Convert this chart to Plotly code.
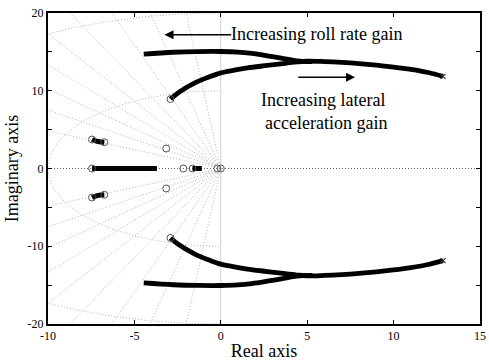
import numpy as np
import plotly.graph_objects as go

FONT = "Liberation Serif, Times New Roman, serif"

# ---- data ----
# upper branch for roll rate gain (upper half plane), mirrored below
roll_x = [5.3, 4.4, 3.5, 2.69, 1.8, 0.97, 0.0, -1.31, -2.74, -4.46]
roll_y = [13.75, 13.85, 14.2, 14.5, 14.8, 14.98, 15.05, 15.04, 14.95, 14.72]

# branch for lateral acceleration gain
lat_x = [-2.91, -2.4, -1.5, -0.7, 0.0, 0.8, 1.54, 2.69, 3.6, 4.4, 4.97, 6.0, 7.0, 8.0, 9.0, 10.0, 11.0, 12.0, 12.86]
lat_y = [8.93, 9.85, 11.0, 11.75, 12.3, 12.65, 12.94, 13.25, 13.5, 13.7, 13.8, 13.75, 13.65, 13.5, 13.3, 13.05, 12.75, 12.35, 11.85]

# small clusters near -7
clus_x = [-7.45, -7.2, -6.95, -6.74]
clus_y = [3.73, 3.52, 3.42, 3.38]

# real-axis segments
seg1_x = [-7.45, -3.7]
seg2_x = [-1.64, -1.1]

# open circles (zeros)
zero_x = [-2.91, -2.91, -3.16, -3.16, -2.17, -0.2, 0.0, -7.45, -7.45, -7.45, -6.74, -6.74, -1.64]
zero_y = [8.93, -8.93, 2.57, -2.57, 0.0, 0.0, 0.0, 0.0, 3.73, -3.73, 3.38, -3.38, 0.0]

# end crosses
end_x = [12.86, 12.86]
end_y = [11.85, -11.85]

# s-grid
zetas = [0.1, 0.2, 0.3, 0.4, 0.5, 0.6, 0.7, 0.8, 0.9]
wns = [10, 20]

x_ticks = [-10, -5, 0, 5, 10, 15]
y_ticks = [-20, -15, -10, -5, 0, 5, 10, 15, 20]
y_ticktext = ["-20", "", "-10", "", "0", "", "10", "", "20"]

fig = go.Figure()

grid_color = "#b4b4b4"
grid_dash = "1px,2px"

# damping ratio lines
for z in zetas:
    th = np.arccos(z)
    R = 40
    for s in (1, -1):
        fig.add_trace(go.Scatter(x=[0, -R * z], y=[0, s * R * np.sin(th)], mode="lines",
                                 line=dict(color=grid_color, width=1, dash=grid_dash),
                                 hoverinfo="skip", showlegend=False))
# natural frequency circles
for wn in wns:
    t = np.linspace(np.pi / 2, 3 * np.pi / 2, 200)
    fig.add_trace(go.Scatter(x=wn * np.cos(t), y=wn * np.sin(t), mode="lines",
                             line=dict(color=grid_color, width=1, dash=grid_dash),
                             hoverinfo="skip", showlegend=False))
# imaginary axis
fig.add_trace(go.Scatter(x=[0, 0], y=[-20, 20], mode="lines",
                         line=dict(color="#cfcfcf", width=1), hoverinfo="skip", showlegend=False))
# real axis
fig.add_trace(go.Scatter(x=[-10, 15], y=[0, 0], mode="lines",
                         line=dict(color="#666666", width=1, dash=grid_dash), hoverinfo="skip", showlegend=False))

thick = dict(color="black", width=4.8)
for s in (1, -1):
    fig.add_trace(go.Scatter(x=roll_x, y=[s * v for v in roll_y], mode="lines",
                             line=dict(shape="spline", **thick), showlegend=False))
    fig.add_trace(go.Scatter(x=lat_x, y=[s * v for v in lat_y], mode="lines",
                             line=dict(shape="spline", **thick), showlegend=False))
    fig.add_trace(go.Scatter(x=clus_x, y=[s * v for v in clus_y], mode="lines",
                             line=dict(shape="spline", color="black", width=5), showlegend=False))

fig.add_trace(go.Scatter(x=seg1_x, y=[0, 0], mode="lines", line=dict(color="black", width=5), showlegend=False))
fig.add_trace(go.Scatter(x=seg2_x, y=[0, 0], mode="lines", line=dict(color="black", width=5), showlegend=False))

fig.add_trace(go.Scatter(x=zero_x, y=zero_y, mode="markers",
                         marker=dict(symbol="circle-open", size=7, color="#555555", line=dict(width=1)),
                         showlegend=False))
fig.add_trace(go.Scatter(x=end_x, y=end_y, mode="markers",
                         marker=dict(symbol="x-thin-open", size=5, color="#333333", line=dict(width=1.2)),
                         showlegend=False))

# annotations
fig.add_annotation(x=0.45, y=17.3, xref="x", yref="y", text="Increasing roll rate gain",
                   showarrow=False, xanchor="left", yanchor="middle",
                   font=dict(family=FONT, size=18, color="black"))
fig.add_annotation(x=-3.26, y=17.2, ax=0.69, ay=17.2, xref="x", yref="y", axref="x", ayref="y",
                   text="", showarrow=True, arrowhead=2, arrowsize=1.2, arrowwidth=1.5, arrowcolor="black")
fig.add_annotation(x=7.77, y=11.73, ax=4.4, ay=11.73, xref="x", yref="y", axref="x", ayref="y",
                   text="", showarrow=True, arrowhead=2, arrowsize=1.2, arrowwidth=1.5, arrowcolor="black")
fig.add_annotation(x=5.94, y=8.87, xref="x", yref="y", text="Increasing lateral",
                   showarrow=False, xanchor="center", yanchor="middle",
                   font=dict(family=FONT, size=18, color="black"))
fig.add_annotation(x=6.1, y=5.9, xref="x", yref="y", text="acceleration gain",
                   showarrow=False, xanchor="center", yanchor="middle",
                   font=dict(family=FONT, size=18, color="black"))

axis_common = dict(showgrid=False, zeroline=False, showline=True, linecolor="black", linewidth=2,
                   mirror="ticks", ticks="inside", ticklen=4, tickwidth=1, tickcolor="black",
                   ticklabeloverflow="allow",
                   tickfont=dict(family=FONT, size=12, color="black"))

fig.update_xaxes(range=[-10, 15], tickvals=x_ticks, ticktext=[str(v) for v in x_ticks],
                 title=dict(text="Real axis", font=dict(family=FONT, size=18, color="black"), standoff=2),
                 **axis_common)
fig.update_yaxes(range=[-20, 20], tickvals=y_ticks, ticktext=y_ticktext,
                 title=dict(text="Imaginary axis", font=dict(family=FONT, size=18, color="black"), standoff=4),
                 **axis_common)

fig.update_layout(width=489, height=361, margin=dict(l=48, r=3, t=13, b=37),
                  plot_bgcolor="white", paper_bgcolor="white", showlegend=False,
                  font=dict(family=FONT))

fig.write_html("out.html", config={"displayModeBar": False},
               post_script="document.body.style.margin='0px';")
